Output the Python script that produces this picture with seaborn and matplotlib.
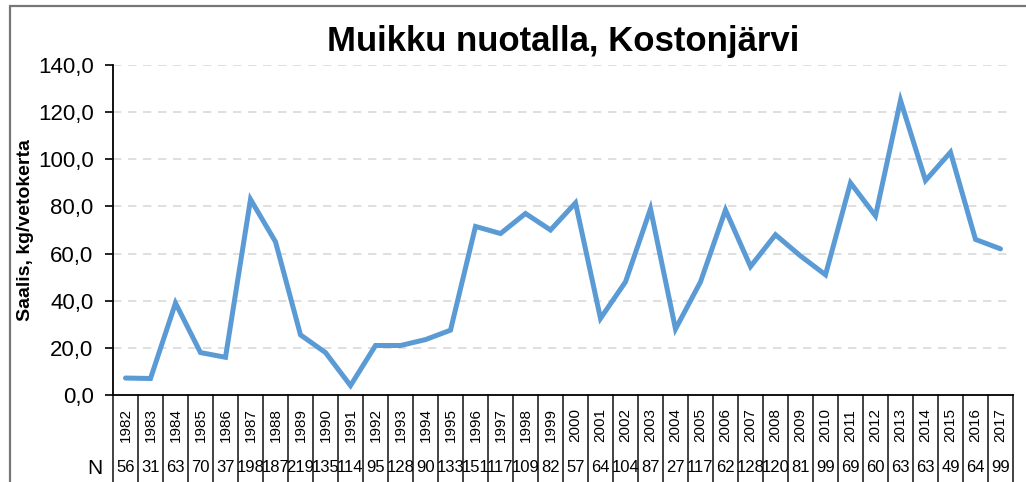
import matplotlib
matplotlib.use("Agg")
import matplotlib.pyplot as plt
import matplotlib.transforms as mtransforms
from matplotlib.lines import Line2D
import seaborn as sns
import pandas as pd
import numpy as np

years = list(range(1982, 2018))
catch = [7.2, 7.0, 39.0, 18.0, 16.0, 83.0, 65.0, 25.5, 18.0, 4.0,
         21.0, 21.0, 23.5, 27.5, 71.5, 68.5, 77.0, 70.0, 81.5, 32.5,
         48.0, 79.0, 28.0, 48.0, 78.5, 54.5, 68.0, 59.0, 51.0, 90.0,
         76.0, 125.0, 91.0, 103.0, 66.0, 62.0]
n_counts = [56, 31, 63, 70, 37, 198, 187, 219, 135, 114, 95, 128, 90, 133, 151, 117, 109, 82,
            57, 64, 104, 87, 27, 117, 62, 128, 120, 81, 99, 69, 60, 63, 63, 49, 64, 99]
y_ticks = [0, 20, 40, 60, 80, 100, 120, 140]
title = "Muikku nuotalla, Kostonjärvi"
y_label = "Saalis, kg/vetokerta"

sns.set_style("white")
plt.rcParams['font.family'] = ['Liberation Sans', 'DejaVu Sans']
plt.rcParams['text.color'] = 'black'
plt.rcParams['axes.labelcolor'] = 'black'
plt.rcParams['ytick.color'] = 'black'

df = pd.DataFrame({"year": years, "catch": catch})

W, H = 1026, 482
fig = plt.figure(figsize=(W / 100, H / 100), dpi=100)
ax = fig.add_axes([113 / W, 1 - 395 / H, (1013 - 113) / W, (395 - 65) / H])

sns.lineplot(data=df, x="year", y="catch", ax=ax, color="#5B9BD5", linewidth=3.6,
             solid_joinstyle="miter")

ax.set_xlim(years[0] - 0.5, years[-1] + 0.5)
ax.set_ylim(0, 140)
ax.set_yticks(y_ticks)
ax.set_yticklabels([f"{v:.1f}".replace(".", ",") for v in y_ticks], fontsize=16, color="black")
ax.set_xticks([])
ax.set_xlabel("")
ax.set_ylabel(y_label, fontsize=14, fontweight="bold")
ax.yaxis.set_label_coords((34 - 113) / 900, 0.5)
ax.tick_params(axis="y", which="both", left=True, length=6, width=1.2, color="black", pad=8)

for s in ["top", "right"]:
    ax.spines[s].set_visible(False)
for s in ["left", "bottom"]:
    ax.spines[s].set_color("black")
    ax.spines[s].set_linewidth(1.3)

for v in y_ticks[1:]:
    ax.axhline(v, color="#d9d9d9", linewidth=1.2, linestyle=(0, (5, 4)), zorder=0)

ax.set_title(title, fontsize=25, fontweight="bold", pad=10, color="black")

# data table under the axis
trans = mtransforms.blended_transform_factory(ax.transData, ax.transAxes)
tbot = -0.28
for b in np.arange(years[0] - 0.5, years[-1] + 1.0, 1.0):
    ax.add_line(Line2D([b, b], [0, tbot], transform=trans, color="#222222",
                       linewidth=1.2, clip_on=False))
for yr, n in zip(years, n_counts):
    ax.text(yr, -0.092, str(yr), transform=trans, rotation=90, ha="center", va="center",
            fontsize=11, color="black")
    ax.text(yr, -0.221, str(n), transform=trans, ha="center", va="center",
            fontsize=12, color="black")
ax.text(95 / W, 1 - 468 / H, "N", transform=fig.transFigure, ha="center", va="center",
        fontsize=15, color="black")

# outer chart border
fig.add_artist(Line2D([9.5 / W, 9.5 / W], [0, 1 - 5.5 / H], transform=fig.transFigure,
                      color="#777777", linewidth=1.6))
fig.add_artist(Line2D([9.5 / W, 1.0], [1 - 5.5 / H, 1 - 5.5 / H], transform=fig.transFigure,
                      color="#777777", linewidth=1.6))

fig.savefig("out.png", dpi=100)
